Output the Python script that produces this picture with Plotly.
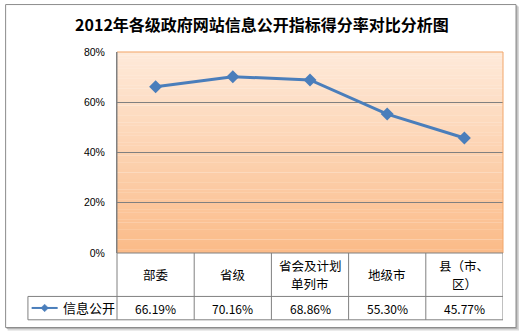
import plotly.graph_objects as go

title = "2012年各级政府网站信息公开指标得分率对比分析图"
categories = ["部委", "省级", "省会及计划单列市", "地级市", "县（市、区）"]
category_labels = [["部委"], ["省级"], ["省会及计划", "单列市"], ["地级市"], ["县（市、", "区）"]]
series_name = "信息公开"
values = [66.19, 70.16, 68.86, 55.30, 45.77]
y_ticks = [0, 20, 40, 60, 80]
y_tick_text = ["0%", "20%", "40%", "60%", "80%"]

W, H = 523, 335
L, R, T, B = 117.3, 503.0, 52.3, 252.7
PW, PH = R - L, B - T

def px(x):
    return (x - L) / PW

def py(y):
    return (B - y) / PH

LINE = "#4A7EBB"
GRID = "#808080"
CJK = "Noto Sans CJK SC"

fig = go.Figure()
fig.add_trace(go.Scatter(
    x=list(range(len(categories))), y=values, mode="lines+markers",
    name=series_name,
    line=dict(color=LINE, width=3),
    marker=dict(symbol="diamond", size=10, color=LINE),
    showlegend=False,
))

shapes = []
# outer frame shadow and border
shapes.append(dict(type="rect", xref="paper", yref="paper",
                   x0=px(8), x1=px(519), y0=py(330), y1=py(7),
                   line=dict(width=0), fillcolor="#D8D8D8", layer="below"))
shapes.append(dict(type="rect", xref="paper", yref="paper",
                   x0=px(7), x1=px(517.5), y0=py(328.5), y1=py(6),
                   line=dict(width=0), fillcolor="#B4B4B4", layer="below"))
shapes.append(dict(type="rect", xref="paper", yref="paper",
                   x0=px(6), x1=px(516), y0=py(327), y1=py(5),
                   line=dict(color="#8C8C8C", width=1), fillcolor="white",
                   layer="below"))
# gradient background of plot area
N = 60
c0 = (254, 234, 218)
c1 = (251, 187, 136)
for i in range(N):
    t = (i + 0.5) / N
    c = tuple(round(c0[k] + (c1[k] - c0[k]) * t) for k in range(3))
    shapes.append(dict(type="rect", xref="x domain", yref="y domain",
                       x0=0, x1=1, y0=1 - (i + 1) / N, y1=1 - i / N + 0.001,
                       line=dict(width=0), fillcolor="rgb(%d,%d,%d)" % c,
                       layer="below"))
# plot border top/right orange
shapes.append(dict(type="line", xref="x domain", yref="y domain", x0=0, x1=1, y0=1, y1=1,
                   line=dict(color="#F2A66A", width=1)))
shapes.append(dict(type="line", xref="x domain", yref="y domain", x0=1, x1=1, y0=0, y1=1,
                   line=dict(color="#F2A66A", width=1)))

# table lines
row1 = py(296.0)
row2 = py(319.3)
shapes.append(dict(type="line", xref="paper", yref="paper", x0=0, x1=1, y0=0, y1=0,
                   line=dict(color=GRID, width=1)))
for yy in (row1, row2):
    shapes.append(dict(type="line", xref="paper", yref="paper", x0=px(28.3), x1=1,
                       y0=yy, y1=yy, line=dict(color=GRID, width=1)))
shapes.append(dict(type="line", xref="paper", yref="paper", x0=px(28.3), x1=px(28.3),
                   y0=row2, y1=row1, line=dict(color=GRID, width=1)))
shapes.append(dict(type="line", xref="paper", yref="paper", x0=0, x1=0,
                   y0=row2, y1=1, line=dict(color=GRID, width=1)))
for i in range(len(categories)):
    shapes.append(dict(type="line", xref="x", yref="paper", x0=i + 0.5, x1=i + 0.5,
                       y0=row2, y1=0, line=dict(color=GRID, width=1)))

# legend symbol in table
ly = py(307.5)
shapes.append(dict(type="line", xref="paper", yref="paper", x0=px(32), x1=px(58),
                   y0=ly, y1=ly, line=dict(color=LINE, width=2)))
dx, dy = 3.8 / PW, 3.8 / PH
cx = px(45)
shapes.append(dict(type="path", xref="paper", yref="paper",
                   path="M %f %f L %f %f L %f %f L %f %f Z" % (cx - dx, ly, cx, ly + dy, cx + dx, ly, cx, ly - dy),
                   line=dict(color=LINE, width=0.5), fillcolor=LINE))

annotations = []
for i, lines in enumerate(category_labels):
    ys = [274.5] if len(lines) == 1 else [265.5, 283.5]
    for txt, yy in zip(lines, ys):
        annotations.append(dict(x=i, xref="x", y=py(yy), yref="paper", text=txt,
                                showarrow=False, font=dict(family=CJK, size=12.5, color="black"),
                                xanchor="center", yanchor="middle"))
for i, v in enumerate(values):
    annotations.append(dict(x=i, xref="x", y=py(308), yref="paper", text="%.2f%%" % v,
                            showarrow=False, font=dict(family=CJK, size=12, color="black"),
                            xanchor="center", yanchor="middle"))
annotations.append(dict(x=px(61), xref="paper", y=py(307.5), yref="paper", text=series_name,
                        showarrow=False, font=dict(family=CJK, size=13, color="black"),
                        xanchor="left", yanchor="middle"))

fig.update_layout(
    width=W, height=H,
    margin=dict(l=L, r=W - R, t=T, b=H - B, pad=0),
    paper_bgcolor="white", plot_bgcolor="rgba(0,0,0,0)",
    title=dict(text="<b>%s</b>" % title, x=262 / W, xref="container", xanchor="center",
               y=1 - 25 / H, yanchor="middle", yref="container",
               font=dict(family=CJK, size=16, color="black")),
    xaxis=dict(range=[-0.5, len(categories) - 0.5], showticklabels=False, showgrid=False,
               zeroline=False, showline=False, ticks=""),
    yaxis=dict(range=[0, 80], tickvals=y_ticks, ticktext=y_tick_text, showgrid=True,
               gridcolor=GRID, gridwidth=1, zeroline=False, showline=True, linecolor=GRID,
               ticks="", ticklen=0, ticklabelstandoff=9,
               tickfont=dict(family="Liberation Sans", size=10.5, color="black")),
    shapes=shapes, annotations=annotations,
)
fig.write_html("out.html")
